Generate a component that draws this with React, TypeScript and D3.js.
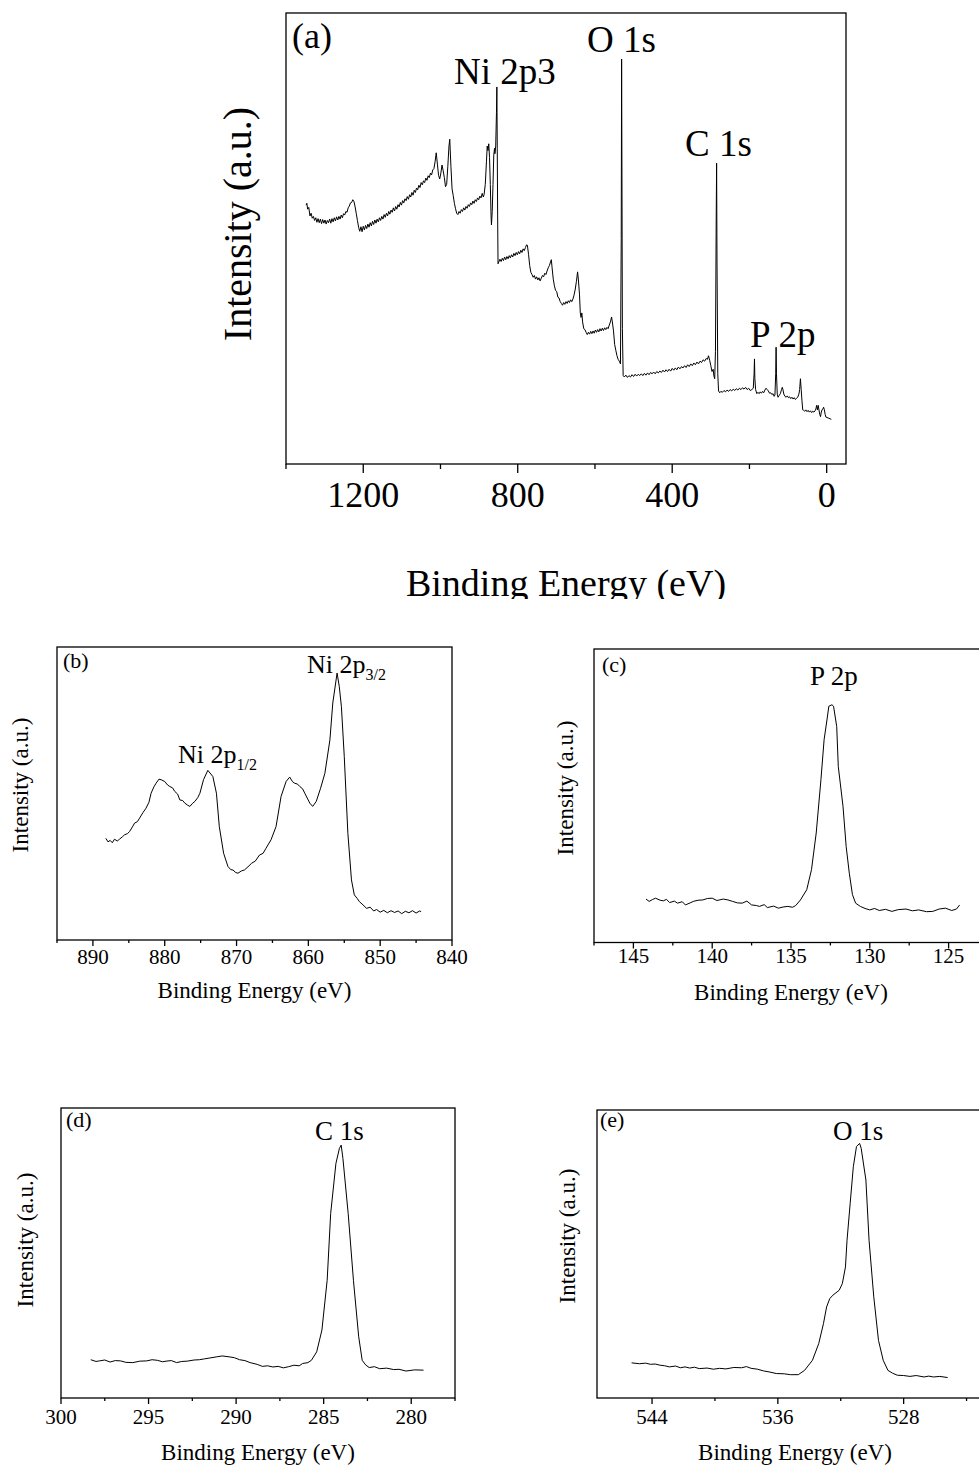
import React from "react";
import * as d3 from "d3";

// ---------- DATA ----------
// (a) survey spectrum: binding energy (eV) and intensity (a.u., 0-100 of frame height)
const surveyE = [1348,1346,1344,1341,1338,1335,1332,1329,1326,1323,1320,1317,1314,1311,1308,1305,1302,1299,1296,1293,1290,1287,1284,1281,1278,1275,1272,1269,1266,1263,1260,1257,1254,1251,1248,1245,1242,1239,1236,1233,1230,1227,1224,1221,1218,1215,1212,1209,1206,1203,1200,1197,1194,1191,1188,1185,1182,1179,1176,1173,1170,1167,1164,1161,1158,1155,1152,1149,1146,1143,1140,1137,1134,1131,1128,1125,1122,1119,1116,1113,1110,1107,1104,1101,1098,1095,1092,1089,1086,1083,1080,1077,1074,1071,1068,1065,1062,1059,1056,1053,1050,1047,1044,1041,1038,1035,1032,1029,1026,1023,1020,1017,1014,1011,1008,1005,1002,999,996,993,990,987,984,981,978,976,973,970,967,964,961,958,955,952,949,946,943,940,937,934,931,928,925,922,919,916,913,910,907,904,901,898,895,892,889,887,884,881,879,877,875,873,871,869,868,866,864,862,860,859,857,855,854,853,852,851,849,846,843,840,837,834,831,828,825,822,819,816,813,810,807,804,801,798,795,792,789,786,783,780,777,775,772,769,766,763,760,757,754,751,748,745,742,739,736,733,730,727,724,721,718,715,713,711,708,705,702,699,696,693,690,687,684,681,678,675,672,669,666,663,660,657,654,651,648,645,643,640,638,636,634,632,629,626,623,620,617,614,611,608,605,602,599,596,593,590,587,584,581,578,575,572,569,566,563,560,557,555,552,549,546,543,540,537,534,532,531,530,529,527,524,520,516,512,508,504,500,496,492,488,484,480,476,472,468,464,460,456,452,448,444,440,436,432,428,424,420,416,412,408,404,400,396,392,388,384,380,376,372,368,364,360,356,352,348,344,340,336,332,328,324,320,316,312,309,306,303,300,297,294,292,290,288,286,285,284,282,280,277,274,270,266,262,258,254,250,246,242,238,234,230,226,222,218,214,210,206,202,198,194,190,188,187,186,184,181,178,175,172,169,166,163,160,157,154,151,148,145,142,139,136,134,132,131,130,128,126,123,120,117,115,113,111,108,105,102,99,96,93,90,87,84,81,78,75,72,70,68,66,64,62,60,57,54,51,48,45,42,39,36,33,30,28,26,24,22,20,18,16,14,12,10,8,6,4,2,-4,-12];
const surveyI = [57.4,57.8,56.5,56.9,55.0,55.6,54.5,54.9,54.0,54.6,53.6,54.4,53.5,54.3,53.3,54.2,53.4,54.1,53.2,54.0,53.5,54.3,53.4,54.4,53.7,54.6,53.9,54.8,54.1,54.9,54.3,55.2,54.6,55.5,55.2,56.0,55.8,56.8,57.2,57.9,58.0,58.6,58.2,57.0,55.5,54.0,52.5,51.6,52.6,51.5,52.7,51.9,52.9,52.2,53.2,52.5,53.5,52.8,53.8,53.1,54.1,53.4,54.3,53.7,54.6,54.0,54.9,54.3,55.3,54.7,55.6,55.0,56.0,55.4,56.3,55.8,56.8,56.1,57.1,56.5,57.5,57.0,58.0,57.4,58.4,57.9,58.8,58.4,59.3,58.7,59.7,59.2,60.2,59.6,60.7,60.2,61.2,60.8,61.8,61.3,62.4,61.9,62.8,62.4,63.4,62.9,63.9,63.5,64.5,64.1,65.2,65.5,67.0,69.0,66.5,64.0,63.2,64.5,66.3,65.0,63.5,61.5,62.0,66.0,70.5,72.0,66.0,61.0,59.5,57.8,56.6,55.6,55.3,56.0,55.6,56.4,56.0,56.8,56.3,57.1,56.7,57.5,57.1,57.9,57.5,58.3,57.8,58.6,58.2,59.0,58.6,59.4,59.0,60.0,59.2,59.8,62.0,67.0,70.5,69.5,71.0,68.0,62.0,55.0,53.0,56.0,62.0,68.5,70.0,68.8,70.5,78.0,83.6,70.0,55.0,44.4,44.8,45.4,44.9,45.6,45.1,45.9,45.3,46.0,45.5,46.2,45.7,46.4,45.9,46.7,46.2,46.9,46.4,47.1,46.6,47.4,46.9,47.7,47.3,48.0,48.6,48.5,46.5,44.0,42.5,42.0,41.4,41.8,41.0,41.5,40.8,41.3,40.6,41.2,41.8,41.5,42.3,42.0,42.8,43.5,44.0,44.8,45.3,43.5,41.0,39.5,38.5,38.2,37.0,36.8,36.0,35.6,35.2,35.8,35.4,36.0,35.6,36.2,35.8,36.4,36.0,36.6,37.5,38.8,40.5,42.6,41.0,37.5,33.5,32.5,33.5,31.5,30.0,29.8,29.2,28.7,29.2,28.8,29.4,28.9,29.5,29.0,29.7,29.2,29.8,29.3,30.0,29.5,30.1,29.6,30.2,29.8,30.3,30.0,30.8,31.5,32.6,31.5,29.5,26.5,25.2,24.0,23.2,22.8,22.2,50.0,89.8,60.0,30.0,19.6,19.3,19.7,19.2,19.6,19.3,19.8,19.4,19.9,19.5,19.9,19.6,20.0,19.6,20.1,19.7,20.2,19.8,20.3,20.0,20.4,20.0,20.5,20.2,20.6,20.3,20.8,20.4,20.9,20.5,21.0,20.6,21.2,20.8,21.3,20.9,21.5,21.1,21.6,21.3,21.8,21.4,22.0,21.6,22.2,21.8,22.4,22.0,22.6,22.2,22.8,22.5,23.1,22.8,23.4,23.2,24.0,23.0,21.8,20.5,21.0,19.5,18.9,25.0,55.0,66.7,45.0,20.0,16.2,15.8,16.1,15.9,16.3,16.0,16.4,16.1,16.5,16.2,16.6,16.3,16.7,16.4,16.8,16.5,16.9,16.6,17.0,16.5,16.8,16.3,16.5,16.8,20.0,23.3,19.0,16.5,15.6,15.9,15.6,16.0,15.7,16.1,15.8,16.4,16.8,16.5,16.2,15.7,15.8,15.4,15.6,15.0,15.3,20.0,25.9,20.0,15.5,14.8,15.2,15.6,16.5,17.0,16.4,15.5,15.0,14.8,15.1,14.7,14.9,14.5,14.8,14.4,14.7,14.3,14.6,14.8,15.5,16.5,18.9,16.5,14.0,12.0,11.9,11.7,12.0,11.6,11.9,11.5,11.8,11.4,11.7,11.5,11.8,12.2,13.0,12.0,13.0,12.0,11.0,10.5,11.5,12.0,12.2,12.6,12.0,11.0,10.4,10.2,9.9];

// (b) Ni 2p
const niE = [888.2,887.9,887.6,887.3,887.0,886.6,886.3,885.9,885.6,885.2,884.9,884.5,884.2,883.8,883.5,883.0,882.6,882.2,881.9,881.5,881.2,880.8,880.5,880.0,879.6,879.3,878.9,878.6,878.2,877.9,877.5,877.2,876.8,876.5,876.1,875.8,875.4,875.1,874.6,874.0,873.3,872.8,872.4,871.8,871.2,870.8,870.5,870.1,869.8,869.3,868.9,868.4,867.9,867.4,866.8,866.3,865.9,865.2,864.5,863.8,863.1,862.6,862.2,861.9,861.5,861.2,860.8,860.5,859.8,859.4,858.9,858.3,857.7,857.0,856.6,856.2,856.0,855.7,855.4,855.0,854.5,854.0,853.6,853.2,852.9,852.4,851.9,851.4,850.9,850.5,850.0,849.5,849.0,848.5,848.0,847.5,847.0,846.5,846.0,845.5,845.0,844.5,844.3];
const niI = [34.7,33.5,34.0,33.2,34.4,33.8,34.4,35.2,35.9,36.3,37.0,38.6,39.9,40.4,41.6,43.6,45.0,47.0,50.1,52.3,53.5,54.9,54.7,54.1,52.9,52.4,51.9,50.7,49.8,47.8,47.6,46.7,46.0,45.6,46.7,47.3,48.6,50.1,54.7,57.9,55.8,50.1,38.7,29.6,25.1,24.0,23.9,23.0,22.8,23.6,23.9,25.0,26.2,26.9,29.0,29.6,31.3,34.2,38.7,49.0,54.1,55.6,54.0,53.5,53.2,52.4,51.6,50.1,46.7,45.6,47.3,51.8,56.9,68.3,80.9,87.7,91.1,86.6,79.7,62.6,36.4,20.5,15.4,14.2,13.1,12.0,10.8,11.2,9.9,10.4,9.5,10.1,9.3,10.0,9.4,9.9,9.0,9.8,9.3,10.0,9.2,9.9,9.7];

// (c) P 2p
const pE = [144.2,144.0,143.8,143.6,143.3,143.1,142.9,142.7,142.4,142.2,141.9,141.7,141.4,141.2,140.9,140.6,140.3,140.0,139.7,139.3,139.0,138.7,138.4,138.1,137.8,137.5,137.2,137.0,136.7,136.5,136.1,135.8,135.5,135.2,134.9,134.7,134.4,134.0,133.7,133.4,133.1,132.9,132.7,132.6,132.4,132.3,132.1,132.0,131.7,131.5,131.3,131.1,130.9,130.6,130.3,130.0,129.7,129.4,129.0,128.6,128.2,127.7,127.3,126.9,126.4,126.0,125.6,125.2,124.8,124.5,124.3];
const pI = [14.8,14.0,14.6,15.1,14.4,14.2,14.7,13.6,14.1,13.4,13.9,12.8,13.5,14.0,14.4,14.5,15.0,15.1,14.3,14.8,14.5,14.0,13.5,13.4,14.1,12.8,12.6,12.3,12.9,11.9,12.4,11.7,12.1,12.3,12.0,12.6,14.5,18.0,24.8,37.3,55.5,69.1,76.5,80.5,81.0,80.5,73.6,60.0,46.4,32.7,23.6,16.3,13.4,12.3,11.6,11.1,11.6,10.9,11.3,10.6,11.2,11.4,10.8,11.1,10.5,10.6,11.4,11.7,10.9,11.4,12.8];

// (d) C 1s
const cE = [298.3,298.0,297.8,297.5,297.2,296.9,296.6,296.3,295.9,295.5,295.1,294.8,294.5,294.2,294.0,293.7,293.4,293.1,292.8,292.4,292.1,291.8,291.5,291.1,290.8,290.4,290.1,289.8,289.5,289.2,288.8,288.5,288.2,287.9,287.6,287.3,287.0,286.7,286.4,286.2,285.9,285.7,285.4,285.1,284.8,284.6,284.3,284.1,284.0,283.9,283.6,283.3,283.0,282.8,282.6,282.4,282.1,281.8,281.4,281.0,280.7,280.3,279.8,279.3];
const cI = [13.2,12.6,12.8,13.1,12.4,12.9,12.8,12.3,12.2,12.7,12.8,13.2,13.0,12.5,12.7,12.9,12.2,12.6,12.7,13.1,13.2,13.5,13.8,14.2,14.5,14.2,13.9,13.2,12.9,12.2,11.6,10.9,11.1,10.7,10.9,10.4,10.8,11.3,11.1,11.9,12.2,13.0,15.9,23.4,40.6,63.6,80.9,86.1,87.2,82.6,63.6,40.6,21.1,13.0,11.4,10.5,10.8,10.1,10.3,9.8,9.9,9.3,9.7,9.6];

// (e) O 1s
const oE = [545.3,544.8,544.4,544.1,543.8,543.5,543.2,542.9,542.5,542.2,541.9,541.6,541.3,541.0,540.5,540.1,539.7,539.3,538.8,538.3,538.0,537.7,537.3,536.9,536.5,536.1,535.6,535.2,534.7,534.3,533.8,533.4,533.1,532.9,532.7,532.5,532.1,531.9,531.7,531.6,531.4,531.2,531.0,530.8,530.7,530.4,530.2,529.9,529.6,529.3,529.0,528.7,528.4,528.0,527.6,527.2,526.7,526.4,526.1,525.7,525.2];
const oI = [12.2,11.9,12.1,11.7,11.8,11.4,11.2,10.8,11.1,10.5,10.8,10.4,10.7,10.2,10.4,10.0,10.3,10.1,10.6,10.5,10.9,10.3,10.0,9.4,9.0,8.5,8.4,8.1,8.1,9.6,13.1,18.9,25.8,31.6,34.5,35.7,37.4,39.7,45.5,54.8,67.6,80.3,87.3,88.4,86.7,75.7,54.8,35.1,20.0,13.1,9.6,8.6,7.9,7.8,7.5,7.8,7.3,7.6,7.3,7.5,7.1];

// tick values
const aMajor = [1200, 800, 400, 0];
const aMinor = [1400, 1000, 600, 200];
const bMajor = [890, 880, 870, 860, 850, 840];
const bMinor = [895, 885, 875, 865, 855, 845];
const cMajor = [145, 140, 135, 130, 125];
const cMinor = [147.5, 142.5, 137.5, 132.5, 127.5, 122.5];
const dMajor = [300, 295, 290, 285, 280];
const dMinor = [297.5, 292.5, 287.5, 282.5, 277.5];
const eMajor = [544, 536, 528];
const eMinor = [540, 532, 524];

const FONT = "'Liberation Serif', 'Times New Roman', serif";

type Ann = { text: string; sub?: string; x: number; y: number; size: number; subSize?: number };
type Cfg = {
  id: string;
  left: number; right: number; top: number; bottom: number;
  domain: [number, number];
  E: number[]; I: number[];
  major: number[]; minor: number[];
  majLen: number; minLen: number;
  tickSize: number; tickBase: number;
  title: string; titleSize: number; titleX: number; titleBase: number; titleClip?: number;
  ylab: string; ylabSize: number; ylabX: number; ylabY: number;
  anns: Ann[];
};

function Panel({ c }: { c: Cfg }) {
  const x = d3.scaleLinear().domain(c.domain).range([c.left, c.right]);
  const y = d3.scaleLinear().domain([0, 100]).range([c.bottom, c.top]);
  const pts: [number, number][] = c.E.map((e, i) => [e, c.I[i]]);
  const line = d3.line<[number, number]>().x((d) => x(d[0])).y((d) => y(d[1]));
  const clipId = "clip-" + c.id;
  const tclipId = "tclip-" + c.id;
  return (
    <g>
      <defs>
        <clipPath id={clipId}>
          <rect x={c.left} y={c.top} width={c.right - c.left} height={c.bottom - c.top} />
        </clipPath>
        {c.titleClip !== undefined && (
          <clipPath id={tclipId}>
            <rect x={0} y={0} width={979} height={c.titleClip} />
          </clipPath>
        )}
      </defs>
      <path d={line(pts) || ""} fill="none" stroke="#000" strokeWidth={1} strokeLinejoin="round" clipPath={`url(#${clipId})`} />
      <rect x={c.left} y={c.top} width={c.right - c.left} height={c.bottom - c.top} fill="none" stroke="#000" strokeWidth={1.3} />
      {c.major.map((t) => (
        <line key={"M" + t} x1={x(t)} x2={x(t)} y1={c.bottom} y2={c.bottom + c.majLen} stroke="#000" strokeWidth={1.3} />
      ))}
      {c.minor.map((t) => (
        <line key={"m" + t} x1={x(t)} x2={x(t)} y1={c.bottom} y2={c.bottom + c.minLen} stroke="#000" strokeWidth={1.3} />
      ))}
      {c.major.map((t) => (
        <text key={"L" + t} x={x(t)} y={c.tickBase} fontSize={c.tickSize} fontFamily={FONT} textAnchor="middle">
          {String(t)}
        </text>
      ))}
      <text x={c.titleX} y={c.titleBase} fontSize={c.titleSize} fontFamily={FONT} textAnchor="middle"
        clipPath={c.titleClip !== undefined ? `url(#${tclipId})` : undefined}>
        {c.title}
      </text>
      <text transform={`translate(${c.ylabX},${c.ylabY}) rotate(-90)`} fontSize={c.ylabSize} fontFamily={FONT} textAnchor="middle">
        {c.ylab}
      </text>
      {c.anns.map((a, i) => (
        <text key={"A" + i} x={a.x} y={a.y} fontSize={a.size} fontFamily={FONT}>
          {a.text}
          {a.sub && (
            <tspan fontSize={a.subSize} dy={a.size * 0.25}>{a.sub}</tspan>
          )}
        </text>
      ))}
    </g>
  );
}

const TITLE = "Binding Energy (eV)";
const YLAB = "Intensity (a.u.)";

const panels: Cfg[] = [
  {
    id: "a", left: 286, right: 846, top: 13, bottom: 464, domain: [1400, -50],
    E: surveyE, I: surveyI, major: aMajor, minor: aMinor, majLen: 9, minLen: 5,
    tickSize: 36, tickBase: 507,
    title: TITLE, titleSize: 38, titleX: 566, titleBase: 596, titleClip: 599,
    ylab: YLAB, ylabSize: 40, ylabX: 251, ylabY: 224,
    anns: [
      { text: "(a)", x: 292, y: 48, size: 36 },
      { text: "Ni 2p3", x: 454, y: 84, size: 37 },
      { text: "O 1s", x: 587, y: 52, size: 37 },
      { text: "C 1s", x: 685, y: 156, size: 37 },
      { text: "P 2p", x: 750, y: 347, size: 37 },
    ],
  },
  {
    id: "b", left: 57, right: 452, top: 647, bottom: 940, domain: [895, 840],
    E: niE, I: niI, major: bMajor, minor: bMinor, majLen: 6, minLen: 3,
    tickSize: 21, tickBase: 964,
    title: TITLE, titleSize: 23, titleX: 254.5, titleBase: 998,
    ylab: YLAB, ylabSize: 23, ylabX: 28, ylabY: 785,
    anns: [
      { text: "(b)", x: 63, y: 668, size: 22 },
      { text: "Ni 2p", sub: "3/2", x: 307, y: 673, size: 26, subSize: 16 },
      { text: "Ni 2p", sub: "1/2", x: 178, y: 763, size: 26, subSize: 16 },
    ],
  },
  {
    id: "c", left: 594, right: 988, top: 649, bottom: 942.5, domain: [147.5, 122.5],
    E: pE, I: pI, major: cMajor, minor: cMinor, majLen: 6, minLen: 3,
    tickSize: 21, tickBase: 963,
    title: TITLE, titleSize: 23, titleX: 791, titleBase: 1000,
    ylab: YLAB, ylabSize: 23, ylabX: 573, ylabY: 788,
    anns: [
      { text: "(c)", x: 602, y: 672, size: 22 },
      { text: "P 2p", x: 810, y: 685, size: 27 },
    ],
  },
  {
    id: "d", left: 61, right: 455, top: 1108, bottom: 1398, domain: [300, 277.5],
    E: cE, I: cI, major: dMajor, minor: dMinor, majLen: 6, minLen: 3,
    tickSize: 21, tickBase: 1424,
    title: TITLE, titleSize: 23, titleX: 258, titleBase: 1460,
    ylab: YLAB, ylabSize: 23, ylabX: 33, ylabY: 1240,
    anns: [
      { text: "(d)", x: 66, y: 1127, size: 22 },
      { text: "C 1s", x: 315, y: 1140, size: 27 },
    ],
  },
  {
    id: "e", left: 597, right: 998, top: 1110, bottom: 1398, domain: [547.5, 522],
    E: oE, I: oI, major: eMajor, minor: eMinor, majLen: 6, minLen: 3,
    tickSize: 21, tickBase: 1424,
    title: TITLE, titleSize: 23, titleX: 795, titleBase: 1460,
    ylab: YLAB, ylabSize: 23, ylabX: 575, ylabY: 1236,
    anns: [
      { text: "(e)", x: 600, y: 1127, size: 22 },
      { text: "O 1s", x: 833, y: 1140, size: 27 },
    ],
  },
];

export default function App() {
  return (
    <svg width={979} height={1467} viewBox="0 0 979 1467"
      style={{ position: "absolute", left: 0, top: 0, background: "#fff", display: "block" }}>
      <rect x={0} y={0} width={979} height={1467} fill="#fff" />
      {panels.map((p) => (
        <Panel key={p.id} c={p} />
      ))}
    </svg>
  );
}
